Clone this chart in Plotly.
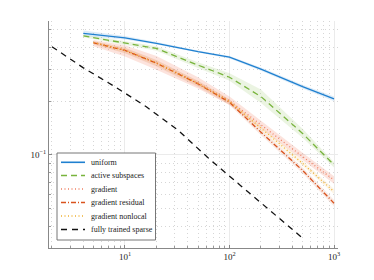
import plotly.graph_objects as go

# ---- data ----
x_uni = [4, 10, 20, 50, 100, 200, 500, 1000]
uniform = [0.479, 0.452, 0.421, 0.378, 0.352, 0.302, 0.241, 0.206]
uniform_lo = [0.462, 0.442, 0.414, 0.372, 0.346, 0.296, 0.235, 0.200]
uniform_hi = [0.497, 0.462, 0.428, 0.384, 0.358, 0.308, 0.247, 0.212]

x_act = [4, 10, 20, 50, 100, 200, 500, 1000]
active = [0.463, 0.424, 0.394, 0.318, 0.272, 0.212, 0.132, 0.088]
active_lo = [0.455, 0.414, 0.382, 0.306, 0.260, 0.195, 0.125, 0.085]
active_hi = [0.471, 0.434, 0.406, 0.330, 0.286, 0.232, 0.140, 0.091]

x_grad = [5, 10, 20, 50, 100, 200, 500, 1000]
gradient = [0.426, 0.386, 0.328, 0.253, 0.201, 0.147, 0.098, 0.0725]
gradient_lo = [0.405, 0.355, 0.300, 0.235, 0.190, 0.140, 0.093, 0.069]
gradient_hi = [0.440, 0.410, 0.358, 0.272, 0.212, 0.155, 0.103, 0.076]
residual = [0.424, 0.384, 0.326, 0.250, 0.197, 0.134, 0.082, 0.0537]
residual_lo = [0.415, 0.370, 0.312, 0.240, 0.190, 0.129, 0.079, 0.0515]
residual_hi = [0.433, 0.398, 0.340, 0.260, 0.204, 0.139, 0.085, 0.0560]
nonlocal_ = [0.425, 0.385, 0.327, 0.251, 0.199, 0.141, 0.0898, 0.0624]
nonlocal_lo = [0.416, 0.372, 0.315, 0.243, 0.193, 0.137, 0.087, 0.0605]
nonlocal_hi = [0.434, 0.398, 0.339, 0.259, 0.205, 0.145, 0.093, 0.0645]

x_full = [2, 4, 8, 16, 32, 64, 128, 256, 500]
full = [0.403, 0.307, 0.241, 0.186, 0.138, 0.0951, 0.0674, 0.0477, 0.0343]

series_names = ["uniform", "active subspaces", "gradient", "gradient residual",
                "gradient nonlocal", "fully trained sparse"]

xtick_vals = [10, 100, 1000]
xtick_text = ["10<sup>1</sup>", "10<sup>2</sup>", "10<sup>3</sup>"]
ytick_vals = [0.1]
ytick_text = ["10<sup>\u22121</sup>"]

# ---- styling ----
C_UNI = "#1f80d0"
C_ACT = "#78b43c"
C_GRAD = "#f08062"
C_RES = "#d9531e"
C_NL = "#f0b030"
C_FULL = "#111111"
colors = [C_UNI, C_ACT, C_GRAD, C_RES, C_NL, C_FULL]
dashes = ["solid", "6px,4px", "1px,2.5px", "5px,2px,1px,2px", "1px,2.5px", "6px,5px"]

fig = go.Figure()


def band(x, lo, hi, color):
    fig.add_trace(go.Scatter(x=x, y=hi, mode="lines", line=dict(width=0),
                             showlegend=False, hoverinfo="skip"))
    fig.add_trace(go.Scatter(x=x, y=lo, mode="lines", line=dict(width=0),
                             fill="tonexty", fillcolor=color,
                             showlegend=False, hoverinfo="skip"))


band(x_uni, uniform_lo, uniform_hi, "rgba(31,128,208,0.15)")
band(x_act, active_lo, active_hi, "rgba(120,180,60,0.15)")
band(x_grad, gradient_lo, gradient_hi, "rgba(240,128,98,0.22)")
band(x_grad, residual_lo, residual_hi, "rgba(217,83,30,0.12)")
band(x_grad, nonlocal_lo, nonlocal_hi, "rgba(240,176,48,0.12)")

lw = 1.3
xs = [x_uni, x_act, x_grad, x_grad, x_grad, x_full]
ys = [uniform, active, gradient, residual, nonlocal_, full]
for x, y, name, c, d in zip(xs, ys, series_names, colors, dashes):
    fig.add_trace(go.Scatter(x=x, y=y, mode="lines", name=name, showlegend=False,
                             line=dict(color=c, width=lw, dash=d)))

# ---- manual legend (compact, like the reference) ----
L, T, R, B = 49, 21, 338, 248   # plot area in px
W, H = R - L, B - T


def px(xp):
    return (xp - L) / W


def py(yp):
    return (B - yp) / H


fig.add_shape(type="rect", xref="paper", yref="paper",
              x0=px(57), x1=px(155.5), y0=py(240), y1=py(153),
              line=dict(color="#777777", width=1), fillcolor="white", layer="above")
row_y = [162.3, 175.5, 189, 202.5, 216, 229.5]
for ry, name, c, d in zip(row_y, series_names, colors, dashes):
    fig.add_shape(type="line", xref="paper", yref="paper",
                  x0=px(61), x1=px(85), y0=py(ry), y1=py(ry),
                  line=dict(color=c, width=1.6 if d == "solid" else 1.3, dash=d),
                  layer="above")
    fig.add_annotation(xref="paper", yref="paper", x=px(89), y=py(ry),
                       xanchor="left", yanchor="middle", text=name, showarrow=False,
                       font=dict(family="Liberation Serif, DejaVu Serif, serif",
                                 size=8, color="#222222"))

minor_x = [m * 10 ** k for k in range(0, 4) for m in range(2, 10)]
minor_y = [m * 10 ** k for k in (-2, -1) for m in range(2, 10)]

font = dict(family="Liberation Serif, DejaVu Serif, serif", size=9, color="#222222")

fig.update_layout(
    width=374, height=280,
    margin=dict(l=49, r=36, t=21, b=32),
    paper_bgcolor="white", plot_bgcolor="white",
    font=font,
    showlegend=False,
)
fig.update_xaxes(
    type="log", range=[0.273, 3.038],
    tickvals=xtick_vals, ticktext=xtick_text,
    showgrid=True, gridcolor="#ebebeb", gridwidth=1,
    showline=True, linecolor="#888888", linewidth=1,
    ticks="inside", ticklen=3, tickcolor="#888888",
    zeroline=False,
    minor=dict(tickvals=minor_x, showgrid=True, griddash="1px,3px", gridcolor="#d6d6d6",
               ticks="inside", ticklen=2, tickcolor="#999999"),
)
fig.update_yaxes(
    type="log", range=[-1.52, -0.251],
    tickvals=ytick_vals, ticktext=ytick_text,
    showgrid=True, gridcolor="#ebebeb", gridwidth=1,
    showline=True, linecolor="#888888", linewidth=1,
    ticks="inside", ticklen=3, tickcolor="#888888",
    zeroline=False,
    minor=dict(tickvals=minor_y, showgrid=True, griddash="1px,3px", gridcolor="#d6d6d6",
               ticks="inside", ticklen=2, tickcolor="#999999"),
)

fig.write_html("out.html", config={"displayModeBar": False},
               post_script="document.body.style.margin='0';document.body.style.padding='0';")
